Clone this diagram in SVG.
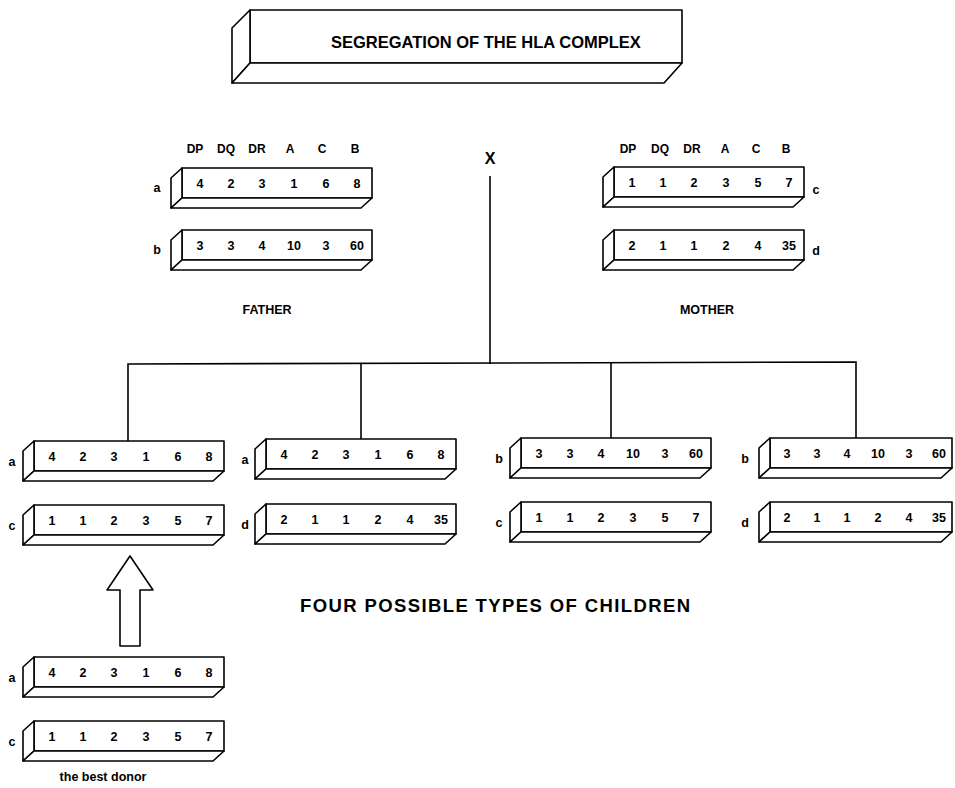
<svg xmlns="http://www.w3.org/2000/svg" xmlns:xlink="http://www.w3.org/1999/xlink" width="955" height="788" viewBox="0 0 955 788">
<style>
.ln{fill:none;stroke:#000;stroke-width:1.6}
.bx{fill:#fff;stroke:#000;stroke-width:1.6;stroke-linejoin:round}
.t{font-family:"Liberation Sans",Arial,sans-serif;font-weight:bold;fill:#000}
.v{font-size:12.5px;text-anchor:middle}
.h{font-size:12px;text-anchor:middle}
.l{font-size:12.5px;text-anchor:middle}
.cap{font-size:12.5px;text-anchor:middle}
</style>
<defs>
<g id="bar">
<rect class="bx" x="0" y="0" width="190" height="30"/>
<polygon class="bx" points="0,0 -11,10 -11,40 0,30"/>
<polygon class="bx" points="0,30 190,30 179,40 -11,40"/>
</g>
<g id="bar-narrow">
<rect class="bx" x="0" y="0" width="182" height="30"/>
<polygon class="bx" points="0,0 -11,10 -11,40 0,30"/>
<polygon class="bx" points="0,30 182,30 171,40 -11,40"/>
</g>
</defs>
<rect width="955" height="788" fill="#fff"/>

<g id="title">
<rect class="bx" x="250" y="10" width="432" height="53"/>
<polygon class="bx" points="250,10 232,28 232,83 250,63"/>
<polygon class="bx" points="250,63 682,63 664,83 232,83"/>
<text class="t" x="331" y="48" font-size="16.5">SEGREGATION OF THE HLA COMPLEX</text>
</g>

<g id="connectors">
<text class="t" x="490" y="164" font-size="16" text-anchor="middle">X</text>
<line class="ln" x1="490" y1="176" x2="490" y2="364"/>
<polyline class="ln" points="128,441 128,364 856,362 856,438"/>
<line class="ln" x1="361" y1="364" x2="361" y2="439"/>
<line class="ln" x1="611" y1="363" x2="611" y2="438"/>
<polygon class="bx" points="130,556 107,590 120,590 120,646 140,646 140,590 153,590"/>
</g>

<g id="father">
<g class="t h">
<text x="195" y="153">DP</text><text x="226" y="153">DQ</text><text x="257" y="153">DR</text><text x="290" y="153">A</text><text x="322" y="153">C</text><text x="355" y="153">B</text>
</g>
<g id="father-a">
<use xlink:href="#bar" x="182" y="168"/>
<text class="t l" x="157" y="192">a</text>
<g class="t v"><text x="200" y="188">4</text><text x="231" y="188">2</text><text x="262" y="188">3</text><text x="294" y="188">1</text><text x="326" y="188">6</text><text x="357" y="188">8</text></g>
</g>
<g id="father-b">
<use xlink:href="#bar" x="182" y="230"/>
<text class="t l" x="157" y="254">b</text>
<g class="t v"><text x="200" y="250">3</text><text x="231" y="250">3</text><text x="262" y="250">4</text><text x="294" y="250">10</text><text x="326" y="250">3</text><text x="357" y="250">60</text></g>
</g>
<text class="t cap" x="267" y="314">FATHER</text>
</g>

<g id="mother">
<g class="t h">
<text x="628" y="153">DP</text><text x="660" y="153">DQ</text><text x="692" y="153">DR</text><text x="725" y="153">A</text><text x="756" y="153">C</text><text x="786" y="153">B</text>
</g>
<g id="mother-c">
<use xlink:href="#bar" x="614" y="167"/>
<text class="t l" x="816" y="194">c</text>
<g class="t v"><text x="632" y="187">1</text><text x="663" y="187">1</text><text x="694" y="187">2</text><text x="726" y="187">3</text><text x="758" y="187">5</text><text x="789" y="187">7</text></g>
</g>
<g id="mother-d">
<use xlink:href="#bar" x="614" y="230"/>
<text class="t l" x="816" y="255">d</text>
<g class="t v"><text x="632" y="250">2</text><text x="663" y="250">1</text><text x="694" y="250">1</text><text x="726" y="250">2</text><text x="758" y="250">4</text><text x="789" y="250">35</text></g>
</g>
<text class="t cap" x="707" y="314">MOTHER</text>
</g>

<g id="child1">
<use xlink:href="#bar" x="34" y="441"/>
<text class="t l" x="12" y="466">a</text>
<g class="t v"><text x="52" y="461">4</text><text x="83" y="461">2</text><text x="114" y="461">3</text><text x="146" y="461">1</text><text x="178" y="461">6</text><text x="209" y="461">8</text></g>
<use xlink:href="#bar" x="34" y="505"/>
<text class="t l" x="12" y="530">c</text>
<g class="t v"><text x="52" y="525">1</text><text x="83" y="525">1</text><text x="114" y="525">2</text><text x="146" y="525">3</text><text x="178" y="525">5</text><text x="209" y="525">7</text></g>
</g>

<g id="child2">
<use xlink:href="#bar" x="266" y="439"/>
<text class="t l" x="245" y="464">a</text>
<g class="t v"><text x="284" y="459">4</text><text x="315" y="459">2</text><text x="346" y="459">3</text><text x="378" y="459">1</text><text x="410" y="459">6</text><text x="441" y="459">8</text></g>
<use xlink:href="#bar" x="266" y="504"/>
<text class="t l" x="245" y="529">d</text>
<g class="t v"><text x="284" y="524">2</text><text x="315" y="524">1</text><text x="346" y="524">1</text><text x="378" y="524">2</text><text x="410" y="524">4</text><text x="441" y="524">35</text></g>
</g>

<g id="child3">
<use xlink:href="#bar" x="521" y="438"/>
<text class="t l" x="499" y="463">b</text>
<g class="t v"><text x="539" y="458">3</text><text x="570" y="458">3</text><text x="601" y="458">4</text><text x="633" y="458">10</text><text x="665" y="458">3</text><text x="696" y="458">60</text></g>
<use xlink:href="#bar" x="521" y="502"/>
<text class="t l" x="499" y="527">c</text>
<g class="t v"><text x="539" y="522">1</text><text x="570" y="522">1</text><text x="601" y="522">2</text><text x="633" y="522">3</text><text x="665" y="522">5</text><text x="696" y="522">7</text></g>
</g>

<g id="child4">
<use xlink:href="#bar-narrow" x="770" y="438"/>
<text class="t l" x="745" y="463">b</text>
<g class="t v"><text x="787" y="458">3</text><text x="817" y="458">3</text><text x="847" y="458">4</text><text x="878" y="458">10</text><text x="909" y="458">3</text><text x="939" y="458">60</text></g>
<use xlink:href="#bar-narrow" x="770" y="502"/>
<text class="t l" x="745" y="527">d</text>
<g class="t v"><text x="787" y="522">2</text><text x="817" y="522">1</text><text x="847" y="522">1</text><text x="878" y="522">2</text><text x="909" y="522">4</text><text x="939" y="522">35</text></g>
</g>

<text class="t" x="300" y="612" font-size="18.5" textLength="390" lengthAdjust="spacing">FOUR POSSIBLE TYPES OF CHILDREN</text>

<g id="donor">
<use xlink:href="#bar" x="34" y="657"/>
<text class="t l" x="12" y="682">a</text>
<g class="t v"><text x="52" y="677">4</text><text x="83" y="677">2</text><text x="114" y="677">3</text><text x="146" y="677">1</text><text x="178" y="677">6</text><text x="209" y="677">8</text></g>
<use xlink:href="#bar" x="34" y="721"/>
<text class="t l" x="12" y="746">c</text>
<g class="t v"><text x="52" y="741">1</text><text x="83" y="741">1</text><text x="114" y="741">2</text><text x="146" y="741">3</text><text x="178" y="741">5</text><text x="209" y="741">7</text></g>
<text class="t" x="103" y="781" font-size="12.5" text-anchor="middle">the best donor</text>
</g>
</svg>
